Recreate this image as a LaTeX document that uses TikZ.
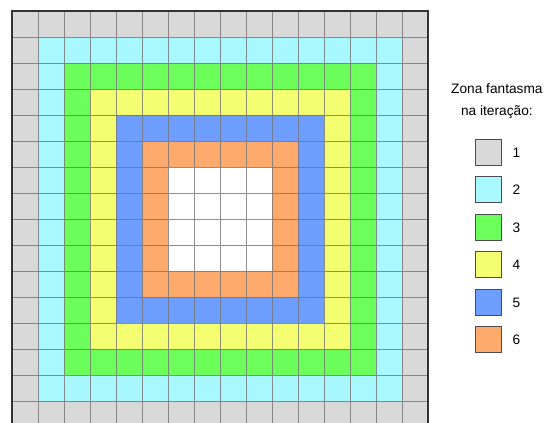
\documentclass[tikz,border=0pt]{standalone}
\usepackage{fontspec}
\setmainfont{Liberation Sans}
\usepackage{xcolor}
\usepackage{tikz}
\usetikzlibrary{positioning}
\definecolor{ghostone}{HTML}{D9D9D9}
\definecolor{ghosttwo}{HTML}{A8F9FF}
\definecolor{ghostthree}{HTML}{6CFF5C}
\definecolor{ghostfour}{HTML}{F3FF70}
\definecolor{ghostfive}{HTML}{6E9EFF}
\definecolor{ghostsix}{HTML}{FFAA6D}

\begin{document}
\begin{tikzpicture}[x=1cm,y=-1cm,node distance=0.4cm,
    gridline/.style={draw=black!55,line width=0.7pt,opacity=0.8},
    border/.style={draw=black!80,line width=2.4pt},
    keybox/.style={draw=black!70,line width=1.2pt,minimum size=1cm,inner sep=0pt},
    keylabel/.style={inner sep=0pt,font=\fontsize{15}{18}\selectfont}]
  \useasboundingbox (-0.4615,-0.423) rectangle (20.885,15.846);
  % rings of ghost cells
  \foreach \k/\col in {1/ghostone,2/ghosttwo,3/ghostthree,4/ghostfour,5/ghostfive,6/ghostsix}
    \fill[\col] (\k-1,\k-1) rectangle (17-\k,17-\k);
  \fill[white] (6,6) rectangle (10,10);
  \draw[gridline] (0,0) grid (16,16);
  \draw[border] (0,16.5) -- (0,0) -- (16,0) -- (16,16.5);
  % legend
  \node[align=center,inner sep=0pt,font=\fontsize{15}{24}\selectfont] (title) at (18.65,3.46)
    {Zona fantasma\\na iteração:};
  \foreach \k/\col in {1/ghostone,2/ghosttwo,3/ghostthree,4/ghostfour,5/ghostfive,6/ghostsix}{
    \node[keybox,fill=\col] (key\k) at (18.31,{5.44+(\k-1)*1.442}) {};
    \node[keylabel,right=0.42cm of key\k] (lbl\k) {\k};
  }
\end{tikzpicture}
\end{document}
